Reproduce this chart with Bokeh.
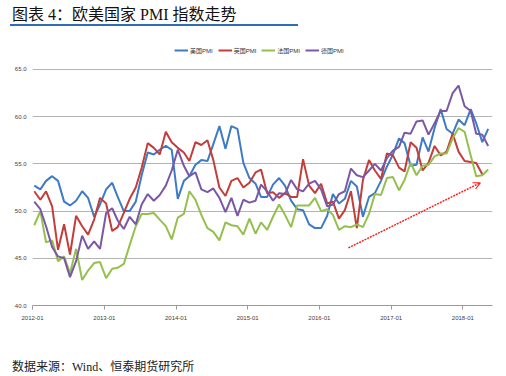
import math
import pandas as pd
from bokeh.plotting import figure
from bokeh.layouts import column
from bokeh.models import (Range1d, FixedTicker, DatetimeTickFormatter, NumeralTickFormatter,
                          Legend, LegendItem, Arrow, OpenHead, Div)
from bokeh.embed import file_html
from bokeh.resources import INLINE

# ---------------- data ----------------
months = pd.period_range("2012-01", "2018-05", freq="M").strftime("%Y-%m").tolist()

us_pmi = [52.7, 52.3, 53.2, 53.7, 53.2, 51.0, 50.6, 51.1, 52.1, 51.4, 49.4, 50.7,
          52.3, 53.0, 51.5, 50.0, 50.0, 51.0, 53.8, 56.2, 56.0, 56.5, 56.9, 56.5,
          51.3, 53.2, 53.7, 54.9, 55.4, 55.3, 57.1, 59.0, 56.6, 59.0, 58.7, 55.1,
          53.5, 52.9, 51.5, 51.5, 52.8, 53.5, 52.7, 51.1, 50.2, 50.1, 48.6, 48.2,
          48.2, 49.5, 51.8, 50.8, 51.3, 53.2, 52.6, 49.4, 51.5, 51.9, 53.2, 54.7,
          56.0, 57.7, 57.2, 54.8, 54.9, 57.8, 56.3, 58.8, 60.8, 58.7, 58.2, 59.7,
          59.1, 60.8, 59.3, 57.3, 58.7]
uk_pmi = [52.1, 51.2, 52.1, 50.5, 45.9, 48.6, 45.4, 49.5, 48.4, 47.5, 49.1, 51.4,
          50.8, 47.9, 48.3, 49.8, 51.3, 52.5, 54.6, 57.2, 56.7, 56.0, 58.4, 57.3,
          56.7, 56.2, 55.3, 57.3, 57.0, 57.5, 55.4, 52.5, 51.6, 53.2, 53.5, 52.5,
          53.0, 54.1, 54.4, 51.9, 52.0, 51.4, 51.9, 51.5, 51.5, 55.5, 52.7, 51.9,
          52.9, 50.8, 51.0, 49.2, 50.1, 52.1, 48.2, 53.3, 55.4, 54.3, 53.4, 56.1,
          55.9, 54.6, 54.2, 57.3, 56.7, 54.3, 55.1, 56.9, 55.9, 56.3, 58.2, 56.3,
          55.3, 55.2, 55.1, 53.9, None]
fr_pmi = [48.5, 50.0, 46.7, 46.9, 44.7, 45.2, 43.4, 46.0, 42.7, 43.7, 44.5, 44.6,
          42.9, 43.9, 44.0, 44.4, 46.4, 48.4, 49.7, 49.7, 49.8, 49.1, 48.4, 47.0,
          49.3, 49.7, 52.1, 51.2, 49.6, 48.2, 47.8, 46.9, 48.8, 48.5, 48.4, 47.5,
          49.2, 47.6, 48.8, 48.0, 49.4, 50.7, 49.6, 48.3, 50.6, 50.6, 50.6, 51.4,
          50.0, 50.2, 49.6, 48.0, 48.4, 48.3, 48.6, 48.3, 49.7, 51.8, 51.7, 53.5,
          53.6, 52.2, 53.3, 55.1, 53.8, 54.8, 54.9, 55.8, 56.1, 56.1, 57.7, 58.8,
          58.4, 55.9, 53.7, 53.8, 54.4]
de_pmi = [51.0, 50.2, 48.4, 46.2, 45.2, 45.0, 43.0, 44.7, 47.4, 46.0, 46.8, 46.0,
          49.8, 50.3, 49.0, 48.1, 49.4, 48.6, 50.7, 51.8, 51.1, 51.7, 52.7, 54.3,
          56.5, 54.8, 53.7, 54.1, 52.3, 52.0, 52.4, 51.4, 49.9, 51.4, 49.5, 51.2,
          50.9, 51.1, 52.8, 52.1, 51.1, 51.9, 51.8, 53.3, 52.3, 52.1, 52.9, 53.2,
          52.3, 50.5, 50.7, 51.8, 52.1, 54.5, 53.8, 53.6, 54.3, 55.0, 54.3, 55.6,
          56.4, 56.8, 58.3, 58.2, 59.5, 59.6, 58.1, 59.3, 60.6, 60.6, 62.5, 63.3,
          61.1, 60.6, 58.2, 58.1, 56.9]

series_names = ["美国PMI", "英国PMI", "法国PMI", "德国PMI"]
series_values = [us_pmi, uk_pmi, fr_pmi, de_pmi]
series_colors = ["#3d7bc6", "#c33d3a", "#95bf4e", "#7a58a6"]

year_ticks = ["2012-01", "2013-01", "2014-01", "2015-01", "2016-01", "2017-01", "2018-01"]
y_ticks = [40, 45, 50, 55, 60, 65]
y_min, y_max = 40, 65
y_top_pad = 2.54          # room above the 65 line for the legend
x_start, x_end = "2012-01-01", "2018-06-01"

trend_from = ("2016-05-28", 46.1)
trend_to = ("2018-03-31", 53.0)

title_text = "图表 4：欧美国家 PMI 指数走势"
source_text = "数据来源：Wind、恒泰期货研究所"

# ---------------- helpers ----------------
def ms(s):
    return pd.Timestamp(s).value / 1e6

dates = pd.to_datetime(months) + pd.Timedelta(days=9)

TITLE_H, FOOT_H, W = 30, 21, 506
FIG_H = 376 - TITLE_H - FOOT_H

p = figure(width=W, height=FIG_H, output_backend="svg", toolbar_location=None,
           x_axis_type="datetime",
           x_range=Range1d(pd.Timestamp(x_start), pd.Timestamp(x_end)),
           y_range=Range1d(y_min, y_max + y_top_pad),
           min_border_left=32, min_border_right=14, min_border_top=15,
           min_border_bottom=FIG_H - 275)
p.outline_line_color = None
p.background_fill_color = "white"
p.border_fill_color = "white"

p.xgrid.grid_line_color = None
p.ygrid.grid_line_color = "#b4b4b4"
p.ygrid.grid_line_width = 1

p.yaxis.ticker = FixedTicker(ticks=y_ticks)
p.yaxis.formatter = NumeralTickFormatter(format="0.0")
p.yaxis.axis_line_color = None
p.yaxis.major_tick_line_color = None
p.yaxis.minor_tick_line_color = None
p.yaxis.major_tick_out = 0
p.yaxis.major_label_standoff = 6

p.xaxis.ticker = FixedTicker(ticks=[ms(t + "-01") for t in year_ticks])
fmt = "%Y-%m"
p.xaxis.formatter = DatetimeTickFormatter(years=fmt, months=fmt, days=fmt, hours=fmt,
                                          hourmin=fmt, minutes=fmt, minsec=fmt,
                                          seconds=fmt, milliseconds=fmt, microseconds=fmt)
p.xaxis.axis_line_color = "#9a9a9a"
p.xaxis.major_tick_line_color = "#9a9a9a"
p.xaxis.minor_tick_line_color = None
p.xaxis.major_tick_out = 4
p.xaxis.major_tick_in = 0
p.xaxis.major_label_standoff = 6

for ax in (p.xaxis, p.yaxis):
    ax.major_label_text_font = "Liberation Sans"
    ax.major_label_text_font_size = "6px"
    ax.major_label_text_color = "#404040"

items = []
for name, vals, col in zip(series_names, series_values, series_colors):
    y = [math.nan if v is None else v for v in vals]
    r = p.line(x=dates, y=y, line_color=col, line_width=2)
    items.append(LegendItem(label=name, renderers=[r]))

legend = Legend(items=items, orientation="horizontal", location=(142, 250),
                padding=0, margin=0, spacing=5, label_standoff=2,
                glyph_width=14, glyph_height=10, label_height=10, label_width=0,
                label_text_font="Liberation Sans, Noto Sans CJK SC",
                label_text_font_size="6px", label_text_color="#333333",
                border_line_color=None, background_fill_alpha=0)
p.add_layout(legend, "center")

p.add_layout(Arrow(end=OpenHead(size=7, line_color="#ff2020", line_width=1.2),
                   x_start=ms(trend_from[0]), y_start=trend_from[1],
                   x_end=ms(trend_to[0]), y_end=trend_to[1],
                   line_color="#ff2020", line_width=1.5, line_dash="2 1"))

title_div = Div(
    text=(f'<div style="margin-left:10px;width:288px;padding-top:5px;padding-left:2px;'
          f'border-bottom:2px solid #2f6db5;font-family:\'Liberation Serif\',\'Noto Sans CJK SC\';'
          f'font-size:16px;line-height:19px;color:#111;white-space:nowrap;">{title_text}</div>'),
    width=W, height=TITLE_H, margin=0)
foot_div = Div(
    text=(f'<div style="margin-left:12px;padding-top:5px;font-family:\'Liberation Serif\',\'Noto Sans CJK SC\';'
          f'font-size:12px;line-height:14px;color:#222;white-space:nowrap;">{source_text}</div>'),
    width=W, height=FOOT_H, margin=0)

layout = column(title_div, p, foot_div, spacing=0)
open("out.html", "w").write(file_html(layout, INLINE))
